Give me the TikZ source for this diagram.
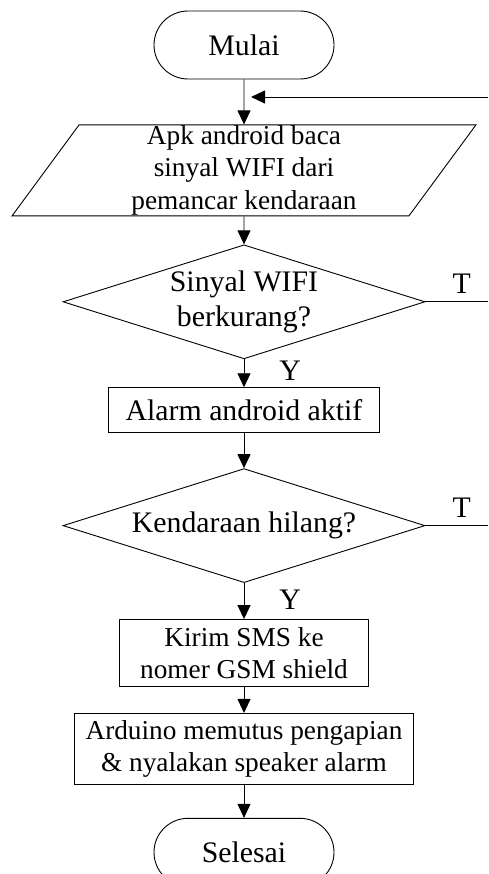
\documentclass[tikz,border=0pt]{standalone}
\usepackage{fontspec}
\setmainfont{Liberation Serif}
\usepackage{tikz}
\usetikzlibrary{shapes.geometric, arrows.meta, positioning}
\tikzset{
    base/.style={draw=black, line width=0.9pt, align=center, inner sep=0pt, fill=white},
    small/.style={font=\fontsize{27.3}{32.5}\selectfont},
    big/.style={font=\fontsize{29.8}{35}\selectfont},
    terminal/.style={base, big, rectangle, rounded corners=34pt, minimum width=180pt, minimum height=68pt},
    io/.style={base, small, trapezium, trapezium left angle=63, trapezium right angle=117, trapezium stretches=true, minimum width=464pt, minimum height=91pt},
    process/.style={base, small, rectangle},
    decision/.style={base, big, diamond, aspect=3.18, minimum width=362pt, minimum height=114pt},
    line/.style={line width=0.9pt, draw=black},
    arrow/.style={line, -{Triangle[length=14pt, width=13pt]}},
    answer/.style={big, inner sep=0pt}
}

\begin{document}
\begin{tikzpicture}[x=1pt, y=-1pt, node distance=28pt]
        \useasboundingbox (0,0) rectangle (488,874);
        % Nodes
        \node (start) [terminal] at (244,45) {Mulai};
        \node (read) [io, below=45pt of start] {Apk android baca \\ sinyal WIFI dari \\ pemancar kendaraan};
        \node (weak) [decision, below=of read] {Sinyal WIFI \\ berkurang?};
        \node (alarm) [process, big, below=of weak, minimum width=271pt, minimum height=45pt] {Alarm android aktif};
        \node (lost) [decision, below=35pt of alarm] {Kendaraan hilang?};
        \node (sms) [process, below=36pt of lost, minimum width=249pt, minimum height=67pt] {Kirim SMS ke \\ nomer GSM shield};
        \node (cutoff) [process, below=26pt of sms, minimum width=339pt, minimum height=71pt] {Arduino memutus pengapian \\ \& nyalakan speaker alarm};
        \node (finish) [terminal, below=33pt of cutoff] {Selesai};

        % Loose ends at the right border
        \coordinate (backin) at (488,97);
        \coordinate (backend) at (251,97);

        % Arrows
        \draw [arrow] (start) -- (read);
        \draw [arrow] (read) -- (weak);
        \draw [arrow] (weak) -- node[answer, pos=0.4, right=35pt] {Y} (alarm);
        \draw [arrow] (alarm) -- (lost);
        \draw [arrow] (lost) -- node[answer, pos=0.45, right=35pt] {Y} (sms);
        \draw [arrow] (sms) -- (cutoff);
        \draw [arrow] (cutoff) -- (finish);

        % Loop back lines
        \draw [line] (weak.east) -- node[answer, pos=0.58, above=8pt] {T} (weak.east -| backin);
        \draw [line] (lost.east) -- node[answer, pos=0.58, above=8pt] {T} (lost.east -| backin);
        \draw [arrow] (backin) -- (backend);
    \end{tikzpicture}
\end{document}
